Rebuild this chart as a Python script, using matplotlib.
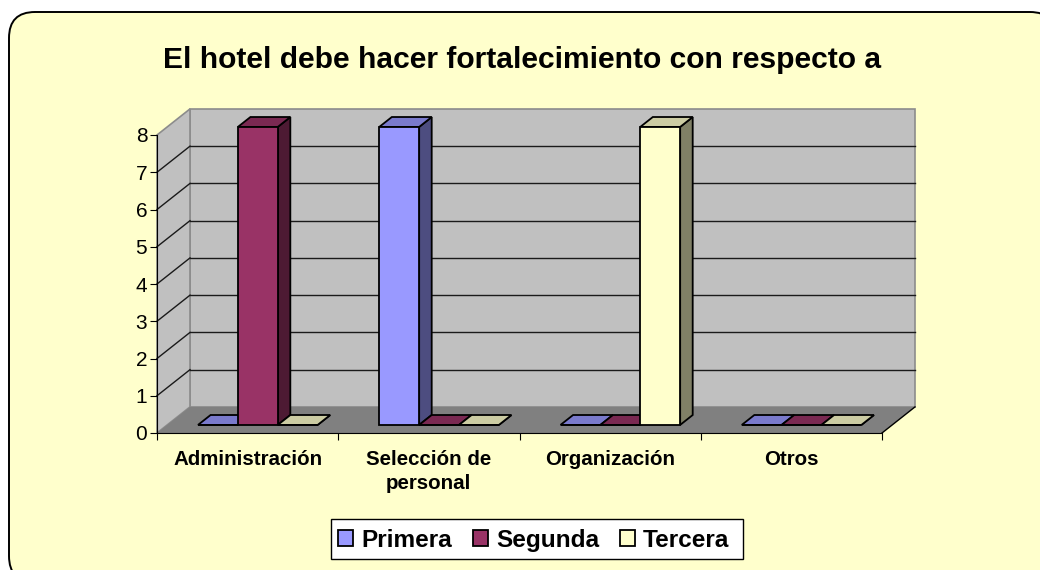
import numpy as np
import matplotlib.pyplot as plt
from matplotlib.patches import Polygon, FancyBboxPatch, Rectangle

plt.rcParams['font.family'] = ['Liberation Sans', 'DejaVu Sans']

# datos
categorias = ['Administración', 'Selección de\npersonal', 'Organización', 'Otros']
series = ['Primera', 'Segunda', 'Tercera']
primera = [0, 8, 0, 0]
segunda = [8, 0, 0, 0]
tercera = [0, 0, 8, 0]
valores = [primera, segunda, tercera]

col_frente = ['#9999FF', '#993366', '#FFFFCC']
col_arriba = ['#7A7ACC', '#7A2952', '#CCCCA3']
col_lado = ['#4D4D80', '#4D1A33', '#808066']

# profundidad del efecto 3D (en unidades de datos)
dx = 0.182
dy = 0.70
d0, d1 = 0.31, 0.69
ancho = 0.22
hueco = 0.17
ymax = 8
n = len(categorias)

fig = plt.figure(figsize=(10.4, 5.7), dpi=100)
fig.patch.set_facecolor('white')

# fondo con esquinas redondeadas (coordenadas en pixeles)
bg = fig.add_axes([0, 0, 1, 1])
bg.set_xlim(0, 1040)
bg.set_ylim(570, 0)
bg.axis('off')
bg.add_patch(FancyBboxPatch((9, 12), 1047, 570, boxstyle='round,pad=0,rounding_size=26',
                            facecolor='#FFFFCC', edgecolor='black', lw=1.4))

ax = fig.add_axes([157/1040, 1-433/570, 725/1040, 298/570])
ax.set_facecolor('none')
ax.set_xlim(0, n)
ax.set_ylim(0, ymax)


def cara(pts, color, ec='black', lw=1.3, z=3):
    ax.add_patch(Polygon(pts, closed=True, facecolor=color, edgecolor=ec,
                         lw=lw, zorder=z, clip_on=False, joinstyle='miter'))


# paredes y piso
cara([(dx, dy), (n+dx, dy), (n+dx, ymax+dy), (dx, ymax+dy)], '#C0C0C0', ec='#8C8C8C', lw=1.2, z=0.5)
cara([(0, 0), (dx, dy), (dx, ymax+dy), (0, ymax)], '#C0C0C0', ec='#8C8C8C', lw=1.2, z=0.5)
cara([(0, 0), (n, 0), (n+dx, dy), (dx, dy)], '#808080', ec='none', lw=0, z=0.6)
ax.plot([n, n+dx], [0, dy], color='black', lw=1, zorder=0.7, clip_on=False)

for v in range(1, ymax):
    ax.plot([dx, n+dx], [v+dy, v+dy], color='#1a1a1a', lw=1, zorder=0.8, clip_on=False)
    ax.plot([0, dx], [v, v+dy], color='#1a1a1a', lw=1, zorder=0.8, clip_on=False)

# barras
for i in range(n):
    for j in range(len(series)):
        v = valores[j][i]
        xl = i + hueco + j*ancho + d0*dx
        xr = xl + ancho
        yb = d0*dy
        ddx = (d1-d0)*dx
        ddy = (d1-d0)*dy
        cara([(xr, yb), (xr+ddx, yb+ddy), (xr+ddx, yb+ddy+v), (xr, yb+v)], col_lado[j])
        cara([(xl, yb+v), (xr, yb+v), (xr+ddx, yb+v+ddy), (xl+ddx, yb+v+ddy)], col_arriba[j])
        cara([(xl, yb), (xr, yb), (xr, yb+v), (xl, yb+v)], col_frente[j])

# ejes
for s in ['top', 'right']:
    ax.spines[s].set_visible(False)
ax.spines['left'].set_color('black')
ax.spines['bottom'].set_color('black')
ax.set_yticks(range(ymax+1))
ax.tick_params(axis='y', direction='out', length=5, labelsize=15, pad=2)
ax.set_xticks(range(n+1))
ax.set_xticklabels([])
ax.set_xticks(np.arange(n)+0.5, minor=True)
ax.set_xticklabels(categorias, minor=True, fontsize=14.8, fontweight='bold', linespacing=1.35)
ax.tick_params(axis='x', which='major', direction='out', length=5)
ax.tick_params(axis='x', which='minor', length=0, pad=12)

fig.text(0.502, 1-60/570, 'El hotel debe hacer fortalecimiento con respecto a',
         ha='center', va='center', fontsize=21.6, fontweight='bold')

# leyenda (a mano, para que los textos compartan linea base)
bg.add_patch(Rectangle((331, 519), 412, 40, facecolor='white', edgecolor='black', lw=1, zorder=5))
leg_x = [338, 473, 620]
for j, nombre in enumerate(series):
    bg.add_patch(Rectangle((leg_x[j], 530), 15, 16, facecolor=col_frente[j],
                           edgecolor='black', lw=1.3, zorder=6))
    bg.text(leg_x[j] + 23, 547, nombre, fontsize=17.6, fontweight='bold',
            ha='left', va='baseline', zorder=6)

fig.savefig('out.png', dpi=100, facecolor='white')
